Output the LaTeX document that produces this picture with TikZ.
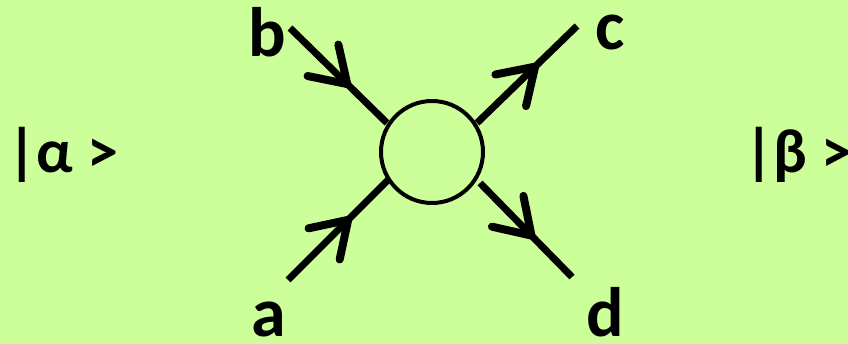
\documentclass[tikz,border=0pt]{standalone}
\usepackage{fontspec}
\setmainfont{Carlito}
\usetikzlibrary{arrows.meta,decorations.markings}
\definecolor{bg}{HTML}{CCFF99}
\tikzset{
  wire/.style={line width=7pt, postaction={decorate}, decoration={markings, mark=at position #1 with {\arrow{Straight Barb[length=34pt,width=44pt,line width=8pt,round]}}}},
  lbl/.style={font=\bfseries\fontsize{70}{80}\selectfont, anchor=base west, inner sep=0pt},
  ket/.style={font=\bfseries\fontsize{62}{70}\selectfont, anchor=base west, inner sep=0pt}
}
\begin{document}
\begin{tikzpicture}[x=1pt,y=-1pt]
\fill[bg] (0,0) rectangle (848,344);
\useasboundingbox (0,0) rectangle (848,344);
\node[circle, draw, line width=4pt, minimum size=102pt, inner sep=0pt] (v) at (432,152) {};
\coordinate (a0) at (288,280);
\coordinate (a1) at (388,180);
\coordinate (b0) at (290,28);
\coordinate (b1) at (387,123);
\coordinate (c0) at (477,123);
\coordinate (c1) at (577,26);
\coordinate (d0) at (480,183);
\coordinate (d1) at (572,277);
\draw[wire=0.63] (a0) -- (a1);
\draw[wire=0.62] (b0) -- (b1);
\draw[wire=0.61] (c0) -- (c1);
\draw[wire=0.59] (d0) -- (d1);
\node[lbl] (la) at (251,337) {a};
\node[lbl] (lb) at (248,57) {b};
\node[lbl] (lc) at (595,50) {c};
\node[lbl] (ld) at (586,337) {d};
\node[ket] (alpha) at (7,173) {|α >};
\node[ket] (beta) at (744,173) {|β >};
\end{tikzpicture}
\end{document}
